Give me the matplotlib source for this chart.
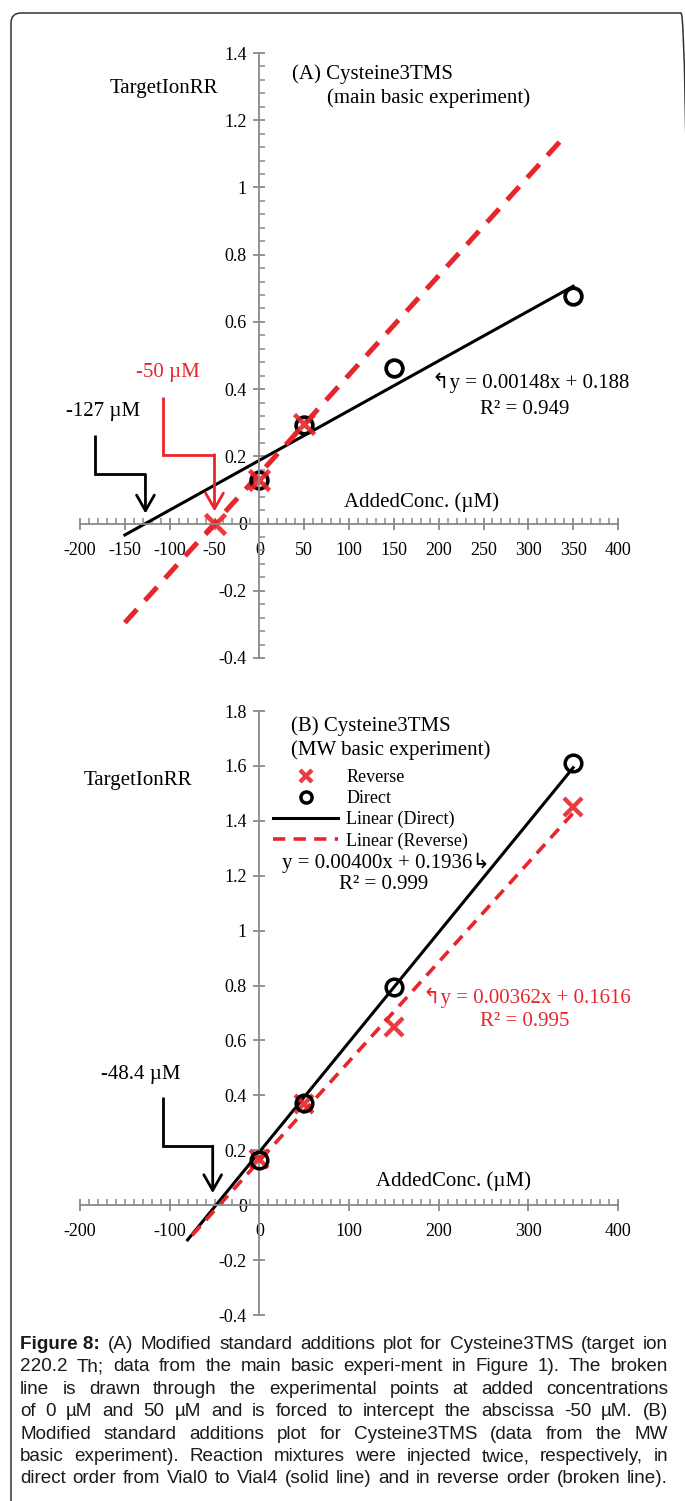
import numpy as np
import matplotlib
matplotlib.use('Agg')
import matplotlib.pyplot as plt
from matplotlib.ticker import MultipleLocator, FuncFormatter
from matplotlib.patches import FancyBboxPatch

# ---- data ----
conc_a = [0, 50, 150, 350]
rr_a_direct = [0.130, 0.294, 0.462, 0.676]
conc_a_rev = [-50, 0, 50]
rr_a_rev = [0.0, 0.130, 0.296]
fit_a_direct = (0.00148, 0.188)       # slope, intercept
fit_a_direct_x = [-150, 350]
fit_a_forced = (0.00295, 0.1475)      # forced through -50 uM
fit_a_forced_x = [-150, 340]

conc_b = [0, 50, 150, 350]
rr_b_direct = [0.165, 0.373, 0.794, 1.612]
rr_b_reverse = [0.170, 0.370, 0.648, 1.452]
fit_b_direct = (0.00400, 0.1936)
fit_b_direct_x = [-80, 350]
fit_b_reverse = (0.00362, 0.1616)
fit_b_reverse_x = [-75, 350]

# elbow arrows (data coords)
arrow_a_black = [(-183, 0.262), (-183, 0.146), (-127, 0.146), (-127, 0.030)]
arrow_a_red = [(-107, 0.378), (-107, 0.205), (-50, 0.205), (-50, 0.036)]
arrow_b_black = [(-107, 0.393), (-107, 0.215), (-52, 0.215), (-52, 0.044)]

caption_lines = [
    "Figure 8: (A) Modified standard additions plot for Cysteine3TMS (target ion",
    "220.2 Th; data from the main basic experi-ment in Figure 1). The broken",
    "line is drawn through the experimental points at added concentrations",
    "of 0 \u00b5M and 50 \u00b5M and is forced to intercept the abscissa -50 \u00b5M. (B)",
    "Modified standard additions plot for Cysteine3TMS (data from the MW",
    "basic experiment). Reaction mixtures were injected twice, respectively, in",
    "direct order from Vial0 to Vial4 (solid line) and in reverse order (broken line).",
]

W, H = 685, 1501
RED = '#e8252b'
GREY = '#8a8a8a'
SERIF = ['Liberation Serif', 'DejaVu Sans']
SANS = ['Liberation Sans', 'DejaVu Sans']

plt.rcParams['font.family'] = SERIF

fig = plt.figure(figsize=(W / 100, H / 100), dpi=100)


def P(x, y):
    return x / W, 1 - y / H


def ftext(x, y, s, **kw):
    kw.setdefault('fontsize', 15)
    kw.setdefault('va', 'center')
    fig.text(*P(x, y), s, **kw)


def style_axes(ax, xmaj, xmin, ymaj, ymin):
    for s in ['top', 'right']:
        ax.spines[s].set_visible(False)
    for s in ['left', 'bottom']:
        ax.spines[s].set_position(('data', 0))
        ax.spines[s].set_color(GREY)
        ax.spines[s].set_linewidth(1.3)
    ax.xaxis.set_major_locator(MultipleLocator(xmaj))
    ax.xaxis.set_minor_locator(MultipleLocator(xmin))
    ax.yaxis.set_major_locator(MultipleLocator(ymaj))
    if ymin:
        ax.yaxis.set_minor_locator(MultipleLocator(ymin))
    fmt = FuncFormatter(lambda v, p: '%g' % round(v, 2))
    ax.xaxis.set_major_formatter(fmt)
    ax.yaxis.set_major_formatter(fmt)
    ax.tick_params(which='major', direction='inout', length=8, width=1.3,
                   color=GREY, labelsize=13)
    ax.tick_params(which='minor', direction='in', length=4, width=1.1, color=GREY)
    ax.tick_params(axis='x', which='major', pad=9)
    ax.tick_params(axis='y', which='major', pad=5)
    ax.patch.set_visible(False)


def elbow(ax, pts, color):
    xs = [p[0] for p in pts[:3]]
    ys = [p[1] for p in pts[:3]]
    ax.plot(xs, ys, color=color, lw=2.0, solid_joinstyle='miter', solid_capstyle='butt')
    ax.annotate('', xy=pts[3], xytext=pts[2],
                arrowprops=dict(arrowstyle='->,head_length=0.7,head_width=0.4',
                                color=color, lw=2.0, shrinkA=0, shrinkB=0,
                                mutation_scale=16))


# ---- panel A ----
axA = fig.add_axes([80 / W, 1 - 658 / H, 538 / W, 605 / H])
axA.set_xlim(-200, 400)
axA.set_ylim(-0.4, 1.4)
style_axes(axA, 50, 10, 0.2, 0.04)

xa = np.array(fit_a_direct_x)
axA.plot(xa, fit_a_direct[0] * xa + fit_a_direct[1], color='black', lw=2.2)
xf = np.array(fit_a_forced_x)
axA.plot(xf, fit_a_forced[0] * xf + fit_a_forced[1], color=RED, lw=3.6,
         dashes=(3.6, 2.4))
axA.plot(conc_a, rr_a_direct, 'o', ms=12, mfc='none', mec='black', mew=2.7)
axA.plot(conc_a_rev, rr_a_rev, 'x', ms=14, color=RED, mew=3.3, alpha=0.9)
elbow(axA, arrow_a_black, 'black')
elbow(axA, arrow_a_red, RED)

ftext(164, 88, 'TargetIonRR', ha='center')
ftext(292, 74, '(A) Cysteine3TMS')
ftext(327, 98, '(main basic experiment)')
ftext(168, 372, '-50 \u00b5M', ha='center', color=RED)
ftext(103, 412, '-127 \u00b5M', ha='center')
ftext(432, 383, '\u21b0y = 0.00148x + 0.188')
ftext(525, 409, 'R\u00b2 = 0.949', ha='center')
ftext(421, 502, 'AddedConc. (\u00b5M)', ha='center')

# ---- panel B ----
axB = fig.add_axes([80 / W, 1 - 1315 / H, 538 / W, 604 / H])
axB.set_xlim(-200, 400)
axB.set_ylim(-0.4, 1.8)
style_axes(axB, 100, 10, 0.2, None)

xd = np.array(fit_b_direct_x)
xr = np.array(fit_b_reverse_x)
axB.plot(conc_b, rr_b_reverse, 'x', ms=13, color=RED, mew=3.1, alpha=0.9,
         label='Reverse', zorder=3)
axB.plot(conc_b, rr_b_direct, 'o', ms=12, mfc='none', mec='black', mew=2.5,
         label='Direct', zorder=4)
axB.plot(xd, fit_b_direct[0] * xd + fit_b_direct[1], color='black', lw=2.2,
         label='Linear (Direct)', zorder=2)
axB.plot(xr, fit_b_reverse[0] * xr + fit_b_reverse[1], color=RED, lw=2.6,
         dashes=(3.4, 2.3), label='Linear (Reverse)', zorder=2)
leg = axB.legend(loc='upper left', bbox_to_anchor=P(273, 769),
                 bbox_transform=fig.transFigure, frameon=False, fontsize=13,
                 borderpad=0, borderaxespad=0, handlelength=3.6,
                 handletextpad=0.45, labelspacing=0.22)
for h in leg.legend_handles[:2]:
    h.set_markersize(8)
elbow(axB, arrow_b_black, 'black')

ftext(138, 780, 'TargetIonRR', ha='center')
ftext(291, 726, '(B) Cysteine3TMS')
ftext(291, 750, '(MW basic experiment)')
ftext(282, 863, 'y = 0.00400x + 0.1936\u21b3')
ftext(384, 884, 'R\u00b2 = 0.999', ha='center')
ftext(423, 998, '\u21b0y = 0.00362x + 0.1616', color=RED)
ftext(525, 1021, 'R\u00b2 = 0.995', ha='center', color=RED)
ftext(141, 1075, '-48.4 \u00b5M', ha='center')
ftext(453, 1181, 'AddedConc. (\u00b5M)', ha='center')

# ---- frame (rounded box, runs off the right and bottom) ----
frame = FancyBboxPatch((0.11, -0.3), 6.80, 14.88 + 0.3,
                       boxstyle='round,pad=0,rounding_size=0.1',
                       transform=fig.dpi_scale_trans, fill=False,
                       ec='#333333', lw=1.1)
fig.add_artist(frame)

# ---- caption, justified ----
fig.canvas.draw()
r = fig.canvas.get_renderer()
x0, x1 = 20, 668
y0, dy = 1349, 22.4     # baselines

tokens = []
for i, line in enumerate(caption_lines):
    words = line.split()
    if i == 0:
        words = [words[0] + ' ' + words[1]] + words[2:]
    tokens.append(words)


def make_line(i, words, size):
    out = []
    for j, w in enumerate(words):
        bold = (i == 0 and j == 0)
        t = fig.text(0, 1 - (y0 + i * dy) / H, w, fontsize=size, family=SANS,
                     fontweight='bold' if bold else 'normal',
                     va='baseline', ha='left', color='#1a1a1a')
        out.append(t)
    return out


# pick a font size so the widest line fits with ordinary spaces
base = 12.0
space = 0.278 * base * 100 / 72
natural = []
for i, words in enumerate(tokens):
    ts = make_line(i, words, base)
    natural.append(sum(t.get_window_extent(r).width for t in ts) + space * (len(ts) - 1))
    for t in ts:
        t.remove()
size = base * (x1 - x0) / max(natural) * 0.985

for i, words in enumerate(tokens):
    texts = make_line(i, words, size)
    widths = [t.get_window_extent(r).width for t in texts]
    gap = (x1 - x0 - sum(widths)) / (len(words) - 1)
    x = x0
    for t, wd in zip(texts, widths):
        t.set_x(x / W)
        x += wd + gap

fig.savefig('out.png', dpi=100)
